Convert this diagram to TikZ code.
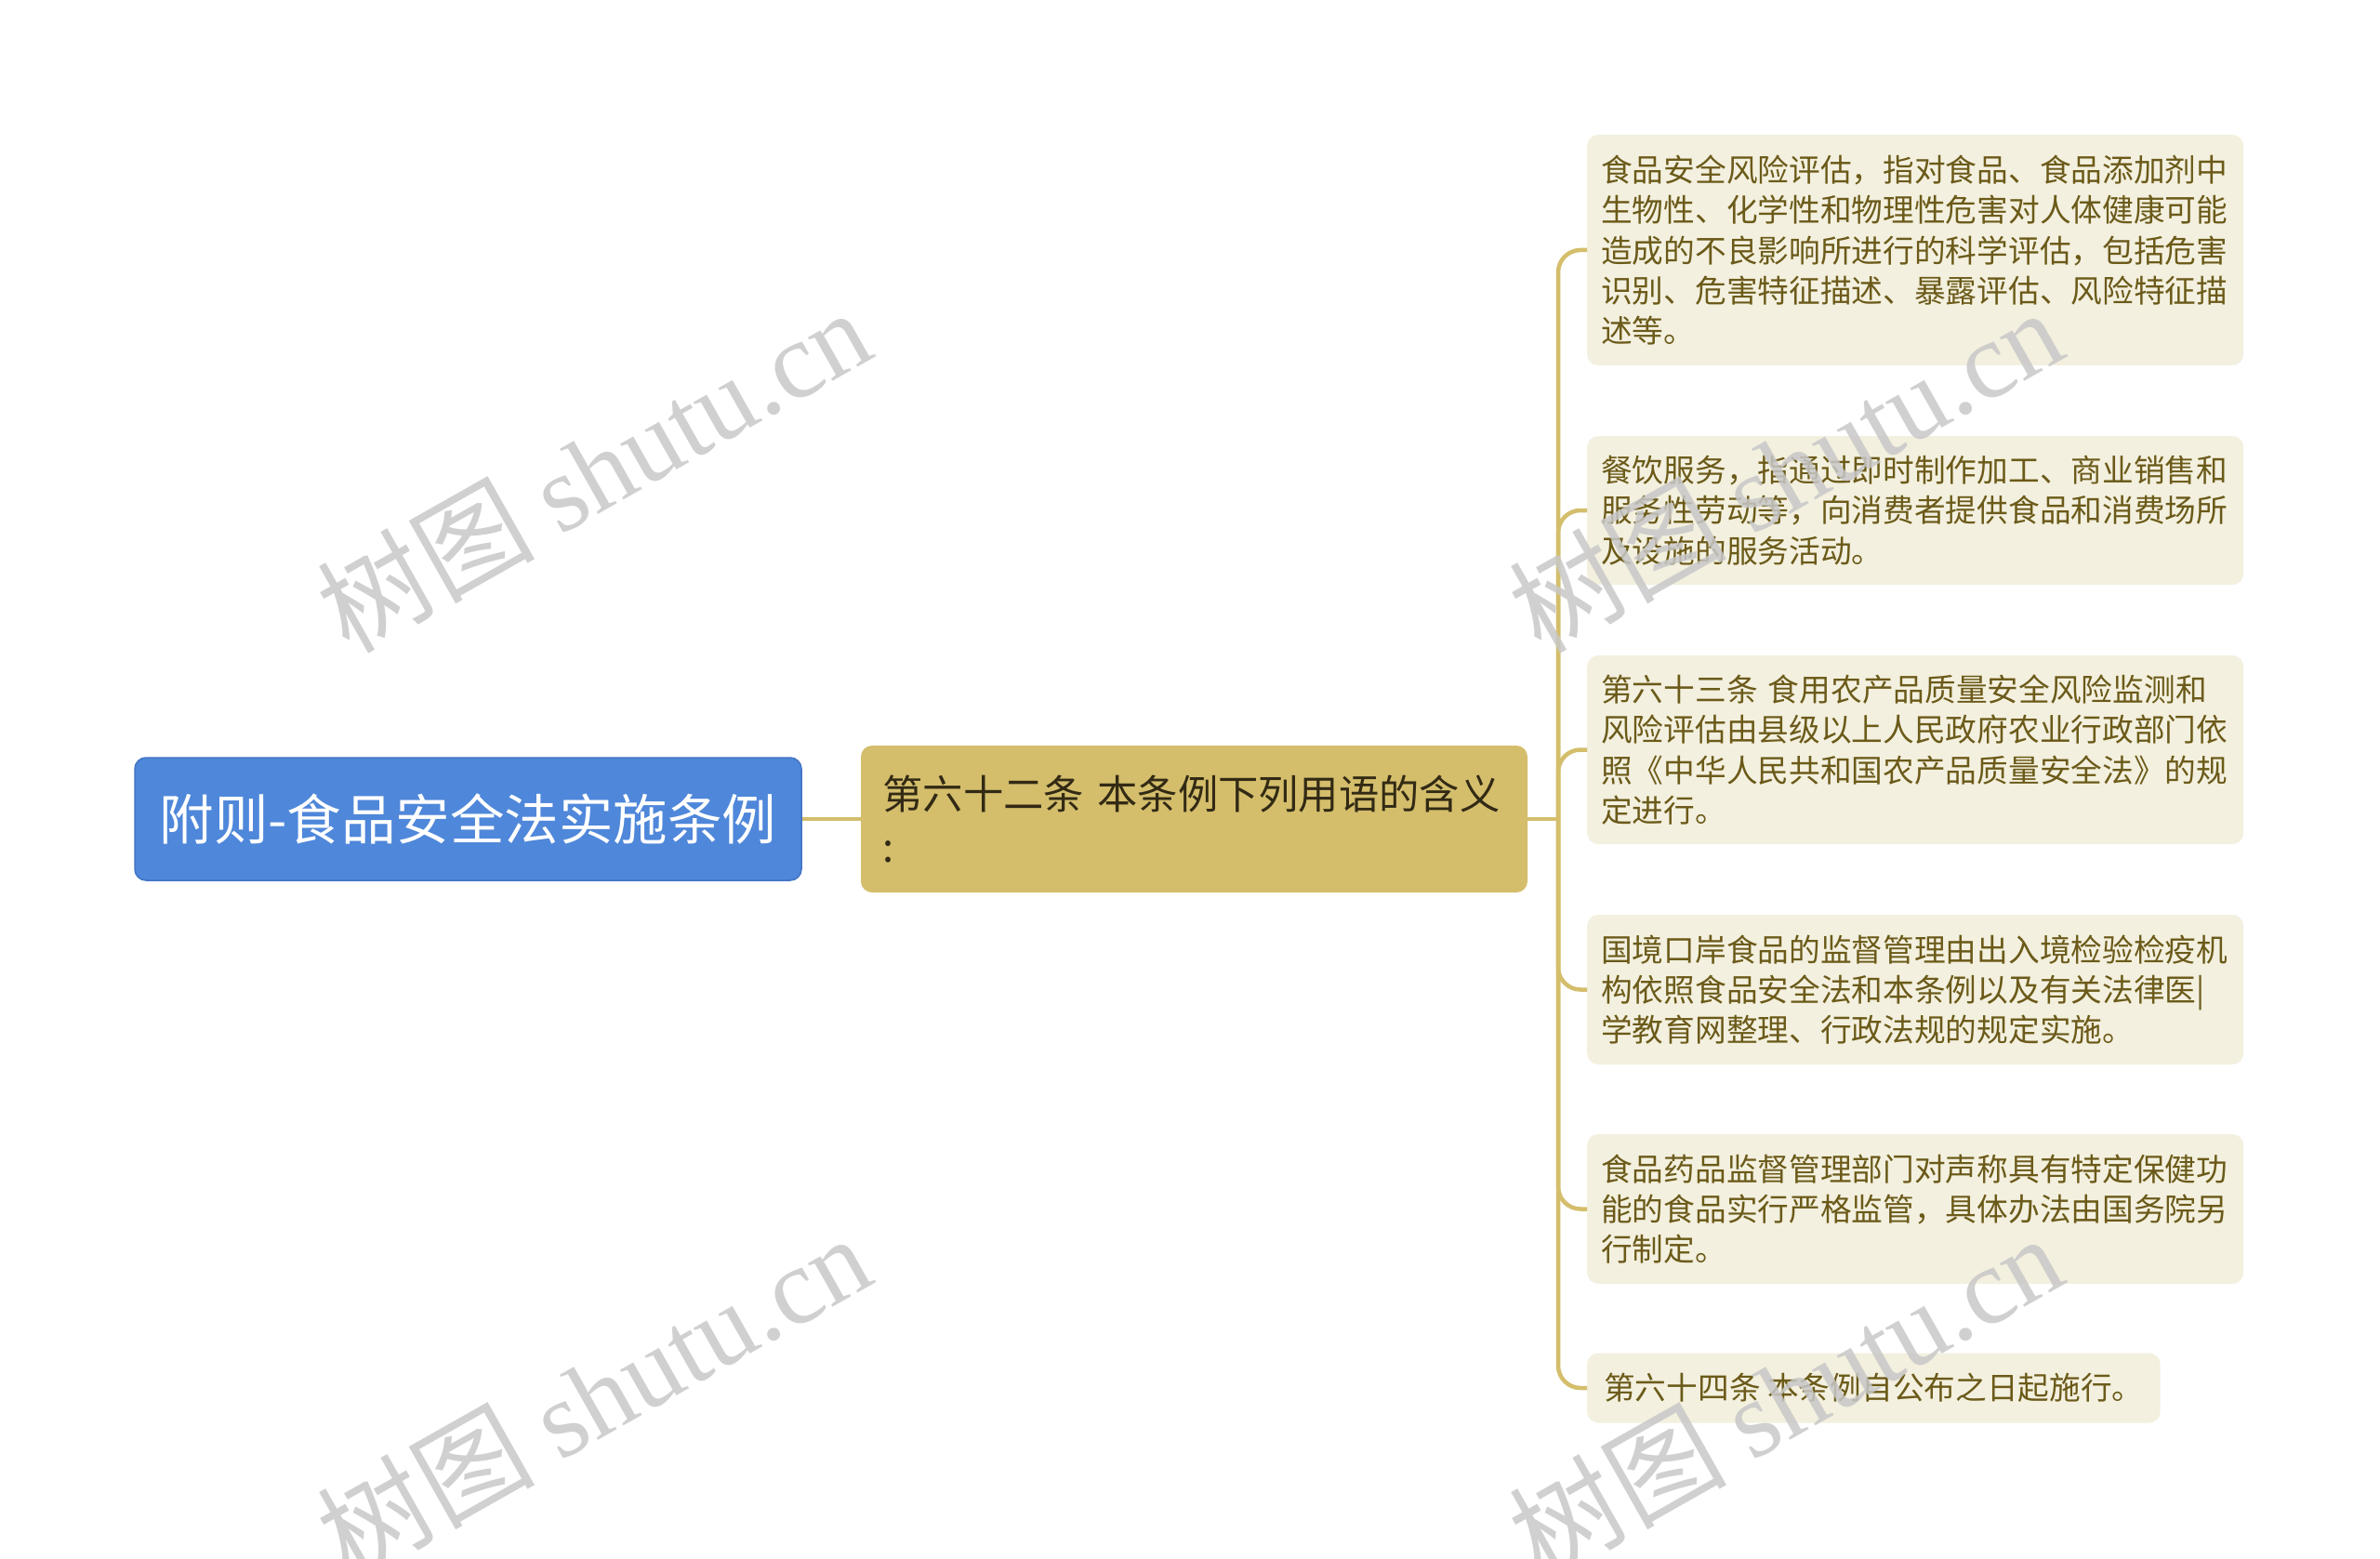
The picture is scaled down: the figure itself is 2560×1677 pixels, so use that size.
\documentclass[tikz,border=0pt]{standalone}
\usepackage{fontspec}
\setmainfont{Noto Sans CJK SC}
\newfontfamily\wmlatin{Liberation Serif}
\definecolor{rootblue}{RGB}{79,135,218}
\definecolor{rootedge}{RGB}{66,116,196}
\definecolor{gold}{RGB}{212,190,108}
\definecolor{leaffill}{RGB}{243,240,223}
\definecolor{leaftext}{RGB}{107,90,25}
\definecolor{midtext}{RGB}{50,42,20}
\definecolor{wm}{RGB}{200,200,200}
\tikzset{
  rootbox/.style={fill=rootblue, draw=rootedge, line width=1.5pt, rounded corners=12pt,
    text=white, minimum width=717pt, minimum height=132pt, inner sep=0pt,
    font=\fontsize{58.5}{68}\selectfont},
  midbox/.style={fill=gold, rounded corners=12pt, text=midtext, minimum width=717pt,
    minimum height=158pt, text width=670pt, inner xsep=23.5pt, inner ysep=0pt,
    align=left, font=\fontsize{43.3}{57}\selectfont},
  leafbox/.style={fill=leaffill, rounded corners=12pt, text=leaftext, anchor=west,
    minimum width=706pt, text width=676pt, inner xsep=15pt, inner ysep=0pt,
    align=left, font=\fontsize{33.7}{43.3}\selectfont},
  leafsmall/.style={fill=leaffill, rounded corners=12pt, text=leaftext, anchor=west,
    minimum width=615pt, inner xsep=18pt, inner ysep=0pt,
    font=\fontsize{33.7}{43.3}\selectfont},
  link/.style={draw=gold, line width=4.5pt},
  branch/.style={link, rounded corners=24pt},
  wmark/.style={text=wm, rotate=29.5, opacity=0.85, inner sep=0pt,
    font=\fontsize{117}{125}\selectfont}
}
\begin{document}
\begin{tikzpicture}[x=1pt,y=-1pt]
\useasboundingbox (0,0) rectangle (2560,1677);
\clip (0,0) rectangle (2560,1677);
\fill[white] (0,0) rectangle (2560,1677);

\node[rootbox] (root) at (503.5,881) {附则-食品安全法实施条例};
\node[midbox] (mid) at (1284.5,881) {第六十二条 本条例下列用语的含义\\:};

\node[leafbox, minimum height=248pt] (l1) at (1707,269)
  {食品安全风险评估，指对食品、食品添加剂中\\生物性、化学性和物理性危害对人体健康可能\\造成的不良影响所进行的科学评估，包括危害\\识别、危害特征描述、暴露评估、风险特征描\\述等。};
\node[leafbox, minimum height=160pt] (l2) at (1707,549)
  {餐饮服务，指通过即时制作加工、商业销售和\\服务性劳动等，向消费者提供食品和消费场所\\及设施的服务活动。};
\node[leafbox, minimum height=203pt] (l3) at (1707,806.5)
  {第六十三条 食用农产品质量安全风险监测和\\风险评估由县级以上人民政府农业行政部门依\\照《中华人民共和国农产品质量安全法》的规\\定进行。};
\node[leafbox, minimum height=161pt] (l4) at (1707,1064.5)
  {国境口岸食品的监督管理由出入境检验检疫机\\构依照食品安全法和本条例以及有关法律医|\\学教育网整理、行政法规的规定实施。};
\node[leafbox, minimum height=161pt] (l5) at (1707,1300.5)
  {食品药品监督管理部门对声称具有特定保健功\\能的食品实行严格监管，具体办法由国务院另\\行制定。};
\node[leafsmall, minimum height=75pt] (l6) at (1707,1493)
  {第六十四条 本条例自公布之日起施行。};

\draw[link] (root.east) -- (mid.west);
\coordinate (j) at (1676,881);
\draw[link] (mid.east) -- (j);
\foreach \l in {l1,l2,l3,l4,l5,l6}
  \draw[branch] (j) |- (\l.west);

\node[wmark] (wm1) at (638,505) {树图 {\wmlatin shutu.cn}};
\node[wmark] (wm2) at (1920,505) {树图 {\wmlatin shutu.cn}};
\node[wmark] (wm3) at (638,1501) {树图 {\wmlatin shutu.cn}};
\node[wmark] (wm4) at (1920,1501) {树图 {\wmlatin shutu.cn}};
\end{tikzpicture}
\end{document}
